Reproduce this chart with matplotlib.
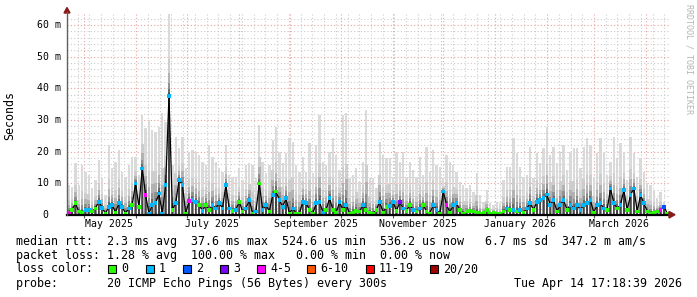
import datetime as dt
import numpy as np
import matplotlib
matplotlib.use("Agg")
import matplotlib.pyplot as plt
import matplotlib.dates as mdates
from matplotlib.ticker import MultipleLocator, NullFormatter
from matplotlib.patches import Rectangle, Polygon
from matplotlib.lines import Line2D
from matplotlib.transforms import blended_transform_factory

W, H = 697, 297
MONO = "DejaVu Sans Mono"

t_start = dt.datetime(2025, 4, 20, 17, 18, 39)
t_end = dt.datetime(2026, 4, 14, 17, 18, 39)

# values in ms, one per ~2 day bin
smoke_max = [
    9.5, 9.0, 16.3, 9.5, 15.8, 13.7, 12.6, 8.4, 11.1, 17.4,
    11.6, 6.3, 22.1, 14.7, 16.8, 20.5, 13.7, 12.1, 15.8, 18.4,
    18.4, 12.6, 31.6, 27.4, 30.0, 26.8, 26.3, 27.9, 32.1, 29.5,
    63.5, 15.8, 24.7, 21.1, 24.7, 14.7, 20.0, 20.5, 20.0, 18.9,
    16.8, 15.8, 22.1, 18.4, 16.8, 14.7, 13.7, 22.1, 12.6, 12.1,
    12.1, 14.7, 11.1, 15.8, 16.3, 15.8, 11.6, 28.4, 16.8, 13.2,
    15.8,
    23.7, 27.9, 20.0, 16.3, 19.5, 24.2, 23.2, 15.8, 13.7, 18.4,
    13.7, 22.6, 13.2, 22.1, 31.6, 16.8, 15.8, 20.0, 24.2, 18.9,
    14.2, 31.6, 32.1, 11.6, 12.6, 14.7, 10.5, 16.8, 33.2, 11.6,
    11.6, 8.4, 23.2, 18.9, 17.9, 17.9, 12.1, 20.0, 16.8, 20.0,
    12.1, 16.8, 14.2, 12.1, 18.4, 12.6, 21.6, 13.7, 20.5, 15.8,
    15.3, 11.6, 18.9, 16.8, 15.8, 13.7, 10.5, 9.5, 8.4, 9.5,
    7.4, 13.2, 6.3, 4.2, 7.9, 3.7, 3.2, 4.2, 3.7, 11.1,
    15.3, 15.3, 24.2, 19.5, 15.3, 12.1, 12.6, 21.6, 11.6, 19.5,
    16.3, 21.1, 27.9, 18.9, 21.6, 16.3, 20.0, 22.1, 14.2, 20.0,
    21.1, 21.1, 14.7, 21.6, 24.2, 22.1, 12.1, 19.5, 24.2, 20.0,
    12.6, 16.8, 24.7, 17.9, 22.6, 20.0, 11.1, 24.7, 19.5, 12.1,
    17.9, 13.7, 10.0, 9.5, 7.9, 5.3, 7.4, 4.2, 1.1,
]
median_ms = [
    0.8, 1.6, 3.7, 1.1, 0.8, 1.6, 1.6, 1.1, 2.1, 4.2,
    2.3, 0.5, 2.6, 3.2, 0.8, 3.7, 2.6, 0.5, 2.1, 3.2,
    10.0, 2.6, 14.7, 6.3, 0.5, 3.2, 3.7, 6.8, 0.5, 9.5,
    37.6, 1.6, 3.7, 11.1, 9.5, 0.5, 4.4, 4.7, 4.2, 3.2,
    1.3, 3.2, 1.6, 3.2, 2.1, 3.7, 2.1, 9.5, 2.1, 1.3,
    1.6, 4.2, 1.1, 2.1, 4.7, 0.5, 1.1, 10.0, 1.6, 3.2,
    1.1,
    6.3, 7.4, 4.7, 2.6, 5.3, 0.5, 2.1, 0.5, 0.5, 4.2,
    3.7, 1.6, 0.5, 3.7, 4.2, 0.8, 1.6, 5.3, 1.6, 0.8,
    4.0, 1.6, 3.2, 0.5, 0.8, 1.3, 1.1, 3.2, 1.6, 0.8,
    0.5, 1.6, 4.2, 0.8, 2.6, 2.9, 4.2, 1.3, 4.0, 2.1,
    1.3, 3.2, 1.6, 1.1, 2.1, 3.2, 1.1, 0.5, 3.2, 1.6,
    0.5, 7.4, 3.2, 0.8, 3.2, 3.7, 1.6, 0.5, 1.1, 1.3,
    1.1, 0.8, 0.5, 0.8, 1.6, 0.5, 0.8, 0.5, 0.5, 1.1,
    2.1, 1.6, 1.6, 1.1, 1.6, 0.8, 2.1, 3.7, 1.6, 4.2,
    4.7, 5.3, 6.5, 3.2, 4.7, 1.1, 3.2, 4.7, 1.6, 3.2,
    2.1, 3.2, 1.6, 3.2, 3.7, 4.7, 0.8, 3.2, 3.7, 2.1,
    1.6, 8.4, 3.7, 2.1, 3.2, 7.9, 1.6, 6.3, 8.4, 1.1,
    6.3, 3.7, 1.1, 0.5, 0.8, 1.1, 1.6, 2.6, 0.5,
]
# index into loss_colors
loss_idx = [
    4, 0, 0, 0, 0, 1, 1, 0, 0, 1,
    1, 0, 1, 1, 0, 1, 1, 0, 1, 0,
    1, 0, 1, 4, 1, 1, 1, 1, 1, 1,
    1, 0, 1, 1, 1, 0, 4, 1, 1, 0,
    1, 0, 0, 1, 1, 1, 1, 1, 1, 0,
    1, 0, 0, 1, 1, 0, 1, 0, 1, 1,
    0,
    1, 0, 1, 1, 1, 0, 1, 0, 0, 1,
    1, 0, 0, 1, 1, 1, 0, 1, 0, 0,
    1, 0, 1, 0, 0, 0, 0, 1, 0, 0,
    0, 0, 1, 0, 0, 1, 1, 0, 3, 1,
    0, 0, 1, 0, 1, 0, 0, 0, 1, 1,
    0, 1, 4, 0, 1, 1, 0, 0, 0, 0,
    0, 0, 0, 0, 0, 0, 0, 0, 0, 0,
    1, 0, 1, 0, 1, 0, 1, 1, 0, 1,
    1, 1, 1, 1, 1, 0, 1, 1, 0, 1,
    1, 1, 1, 1, 1, 1, 0, 1, 1, 1,
    0, 1, 1, 0, 1, 1, 0, 1, 1, 0,
    1, 1, 0, 0, 0, 0, 4, 2, 0,
]

loss_colors = ["#26ff00", "#00b8ff", "#0059ff", "#7e00ff",
               "#ff00ff", "#ff5500", "#ff0000", "#a10000"]
loss_labels = ["0", "1", "2", "3", "4-5", "6-10", "11-19", "20/20"]
loss_box_px = [108, 146, 183, 220, 257, 307, 366, 430]

month_labels = [(2025, 5), (2025, 7), (2025, 9), (2025, 11), (2026, 1), (2026, 3)]
ytick_vals = [0, 10, 20, 30, 40, 50, 60]
ytick_labels = ["0", "10 m", "20 m", "30 m", "40 m", "50 m", "60 m"]

legend_lines = [
    "median rtt:  2.3 ms avg  37.6 ms max  524.6 us min  536.2 us now   6.7 ms sd  347.2 m am/s",
    "packet loss: 1.28 % avg  100.00 % max   0.00 % min  0.00 % now",
    "loss color:",
    "probe:       20 ICMP Echo Pings (56 Bytes) every 300s",
]
stamp = "Tue Apr 14 17:18:39 2026"


def fx(px):
    return px / W


def fy(py):
    return 1 - py / H


fig = plt.figure(figsize=(W / 100, H / 100), dpi=100)
ax = fig.add_axes([fx(67), fy(215), 602 / W, 202 / H])

n = len(median_ms)
t0 = mdates.date2num(t_start)
t1 = mdates.date2num(t_end)
step = (t1 - t0) / n
x = t0 + (np.arange(n) + 0.5) * step
top = np.array(smoke_max)
med = np.array(median_ms)

# smoke: light max, darker towards the median
ax.bar(x, top, width=step * 0.7, color="#dadada", linewidth=0, zorder=2)
shades = [(0.45, "#cdcdcd", 0.75), (0.28, "#b2b2b2", 0.75), (0.16, "#909090", 0.7),
          (0.08, "#6a6a6a", 0.6), (0.03, "#454545", 0.4)]
for f, c, w in shades:
    ax.bar(x, med + (top - med) * f, width=step * w, color=c, linewidth=0, zorder=2)

ax.plot(x, med, color="black", lw=0.9, zorder=3)
ax.scatter(x, med, c=[loss_colors[i] for i in loss_idx], marker="s", s=7,
           linewidths=0, zorder=4)

ax.set_xlim(t0, t1)
ax.set_ylim(0, 63.8)

ax.xaxis.set_major_locator(mdates.MonthLocator())
ax.xaxis.set_minor_locator(mdates.WeekdayLocator(byweekday=mdates.SU))
ax.yaxis.set_major_locator(MultipleLocator(10))
ax.yaxis.set_minor_locator(MultipleLocator(2))
ax.xaxis.set_major_formatter(NullFormatter())
ax.yaxis.set_major_formatter(NullFormatter())
ax.set_axisbelow(True)
ax.grid(which="major", color="#e9a0a0", ls=(0, (1, 2)), lw=0.8)
ax.grid(which="minor", color="#cccccc", ls=(0, (1, 2)), lw=0.8)
ax.tick_params(which="minor", length=0)
ax.tick_params(axis="x", which="major", length=2.5, width=0.8, color="#555555")
ax.tick_params(axis="y", which="major", length=0)

for s in ["top", "right", "left"]:
    ax.spines[s].set_visible(False)
ax.spines["bottom"].set_color("black")
ax.spines["bottom"].set_linewidth(1.6)
ax.spines["bottom"].set_zorder(5)

# y axis line with arrows
fig.add_artist(Line2D([fx(67), fx(67)], [fy(215), fy(12)], color="#606060", lw=1))
fig.add_artist(Polygon([(fx(64), fy(13)), (fx(70), fy(13)), (fx(67), fy(7.5))],
                       closed=True, color="#8b1a1a", transform=fig.transFigure))
fig.add_artist(Polygon([(fx(669), fy(211.5)), (fx(669), fy(218)), (fx(675), fy(214.7))],
                       closed=True, color="#8b1a1a", transform=fig.transFigure))

# tick labels
ty = blended_transform_factory(fig.transFigure, ax.transData)
for v, lab in zip(ytick_vals, ytick_labels):
    xr = 60.5 if v else 48.5
    ax.text(fx(xr), v, lab, transform=ty, ha="right", va="center",
            fontsize=7.1, family=MONO, color="black")
tx = blended_transform_factory(ax.transData, fig.transFigure)
for yr, m in month_labels:
    d = dt.datetime(yr, m, 16)
    ax.text(mdates.date2num(d), fy(224), d.strftime("%B %Y"), transform=tx,
            ha="center", va="center", fontsize=7.1, family=MONO)

fig.text(fx(10), fy(115), "Seconds", rotation=90, ha="center", va="center",
         fontsize=8.4, family=MONO)
fig.text(fx(689), fy(4), "RRDTOOL / TOBI OETIKER", rotation=270, ha="center",
         va="top", fontsize=6, family=MONO, color="#b4b4b4")

# legend block
for i, line in enumerate(legend_lines):
    fig.text(fx(16), fy(241 + 14 * i), line, ha="left", va="center",
             fontsize=8.4, family=MONO)
fig.text(fx(514), fy(283), stamp, ha="left", va="center", fontsize=8.4, family=MONO)
for bx, col, lab in zip(loss_box_px, loss_colors, loss_labels):
    fig.add_artist(Rectangle((fx(bx), fy(273)), 8 / W, 8 / H, facecolor=col,
                             edgecolor="black", lw=0.8, transform=fig.transFigure))
    fig.text(fx(bx + 13), fy(269), lab, ha="left", va="center",
             fontsize=8.4, family=MONO)

fig.savefig("out.png", dpi=100)
